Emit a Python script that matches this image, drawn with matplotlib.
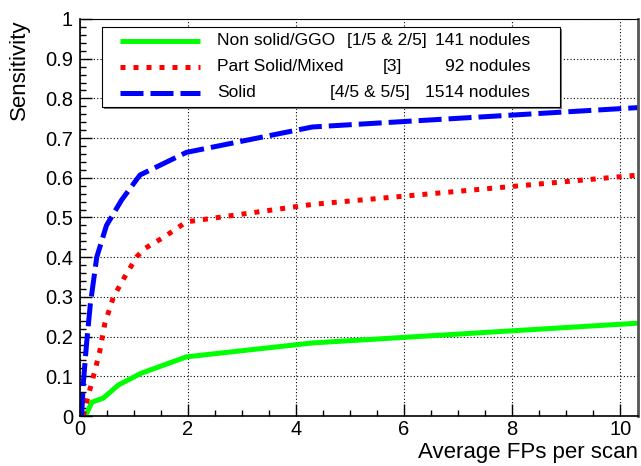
import matplotlib
matplotlib.use("Agg")
import matplotlib.pyplot as plt
from matplotlib.patches import Rectangle
from matplotlib.ticker import MultipleLocator

plt.rcParams['font.family'] = ['Liberation Sans', 'DejaVu Sans']

# FROC curves
green_x = [0.03, 0.12, 0.22, 0.43, 0.71, 1.12, 1.97, 4.3, 10.35]
green_y = [0.0, 0.005, 0.035, 0.045, 0.078, 0.107, 0.149, 0.184, 0.234]

red_x = [0.06, 0.15, 0.28, 0.37, 0.46, 0.62, 0.83, 1.05, 1.2, 1.57, 1.97, 4.3, 10.35]
red_y = [0.0, 0.05, 0.116, 0.166, 0.233, 0.30, 0.351, 0.401, 0.422, 0.452, 0.489, 0.533, 0.607]

blue_x = [0.03, 0.06, 0.12, 0.19, 0.31, 0.49, 0.77, 1.11, 1.97, 4.3, 10.35]
blue_y = [0.0, 0.08, 0.18, 0.28, 0.40, 0.48, 0.544, 0.607, 0.664, 0.728, 0.777]

names = ["Non solid/GGO", "Part Solid/Mixed", "Solid"]
grades = ["[1/5 & 2/5]", "[3]", "[4/5 & 5/5]"]
counts = ["141 nodules", "92 nodules", "1514 nodules"]

styles = [
    dict(color="#00ff00", linestyle="-"),
    dict(color="#ff0000", linestyle=(0, (1.0, 1.6))),
    dict(color="#0000ff", linestyle=(0, (4.6, 1.4))),
]
lw = 3.6

fig = plt.figure(figsize=(6.41, 4.66), dpi=100)
ax = fig.add_axes([80 / 641, 1 - 416 / 466, 558 / 641, 397 / 466])

for xs, ys, st in zip([green_x, red_x, blue_x], [green_y, red_y, blue_y], styles):
    ax.plot(xs, ys, lw=lw, solid_capstyle="butt", dash_capstyle="butt", **st)

ax.set_xlim(0, 10.33)
ax.set_ylim(0, 1)
ax.xaxis.set_major_locator(MultipleLocator(2))
ax.xaxis.set_minor_locator(MultipleLocator(0.5))
ax.yaxis.set_major_locator(MultipleLocator(0.1))
ax.yaxis.set_minor_locator(MultipleLocator(0.02))
ax.yaxis.set_major_formatter(matplotlib.ticker.FuncFormatter(lambda v, p: f"{v:g}"))
ax.tick_params(which="both", direction="in", top=False, right=False, width=1)
ax.tick_params(which="major", length=8.5, labelsize=14.5)
ax.tick_params(axis="x", which="major", pad=3)
ax.tick_params(axis="y", which="major", pad=5)
ax.tick_params(which="minor", length=4.3)
ax.grid(True, which="major", color="black", linestyle=(0, (1, 2)), linewidth=0.8)
ax.set_axisbelow(True)

for s in ["left", "bottom"]:
    ax.spines[s].set_linewidth(1.2)
ax.spines["top"].set_linewidth(0.8)
ax.spines["right"].set_linewidth(2)
ax.spines["right"].set_color("#555555")

ax.set_xlabel("Average FPs per scan", fontsize=16, loc="right")
ax.xaxis.set_label_coords(1.0, -0.066)
ax.set_ylabel("Sensitivity", fontsize=16, loc="top")
ax.yaxis.set_label_coords(-0.09, 1.0)

# legend box drawn in figure pixel coordinates
lax = fig.add_axes([0, 0, 1, 1], zorder=5)
lax.set_xlim(0, 641)
lax.set_ylim(466, 0)
lax.axis("off")
lax.add_patch(Rectangle((104, 29), 458, 80, facecolor="#777777", edgecolor="none"))
lax.add_patch(Rectangle((102, 27), 458, 80, facecolor="white", edgecolor="black", linewidth=0.8))
rows = [40.7, 66.7, 92.7]
grade_x = [347, 383, 330]
for i, st in enumerate(styles):
    lax.plot([120, 200], [rows[i], rows[i]], lw=lw, solid_capstyle="butt",
             dash_capstyle="butt", **st)
    lax.text(217, rows[i], names[i], fontsize=12.5, va="center", ha="left")
    lax.text(grade_x[i], rows[i], grades[i], fontsize=12.5, va="center", ha="left")
    lax.text(530, rows[i], counts[i], fontsize=12.5, va="center", ha="right")

fig.savefig("out.png", dpi=100)
